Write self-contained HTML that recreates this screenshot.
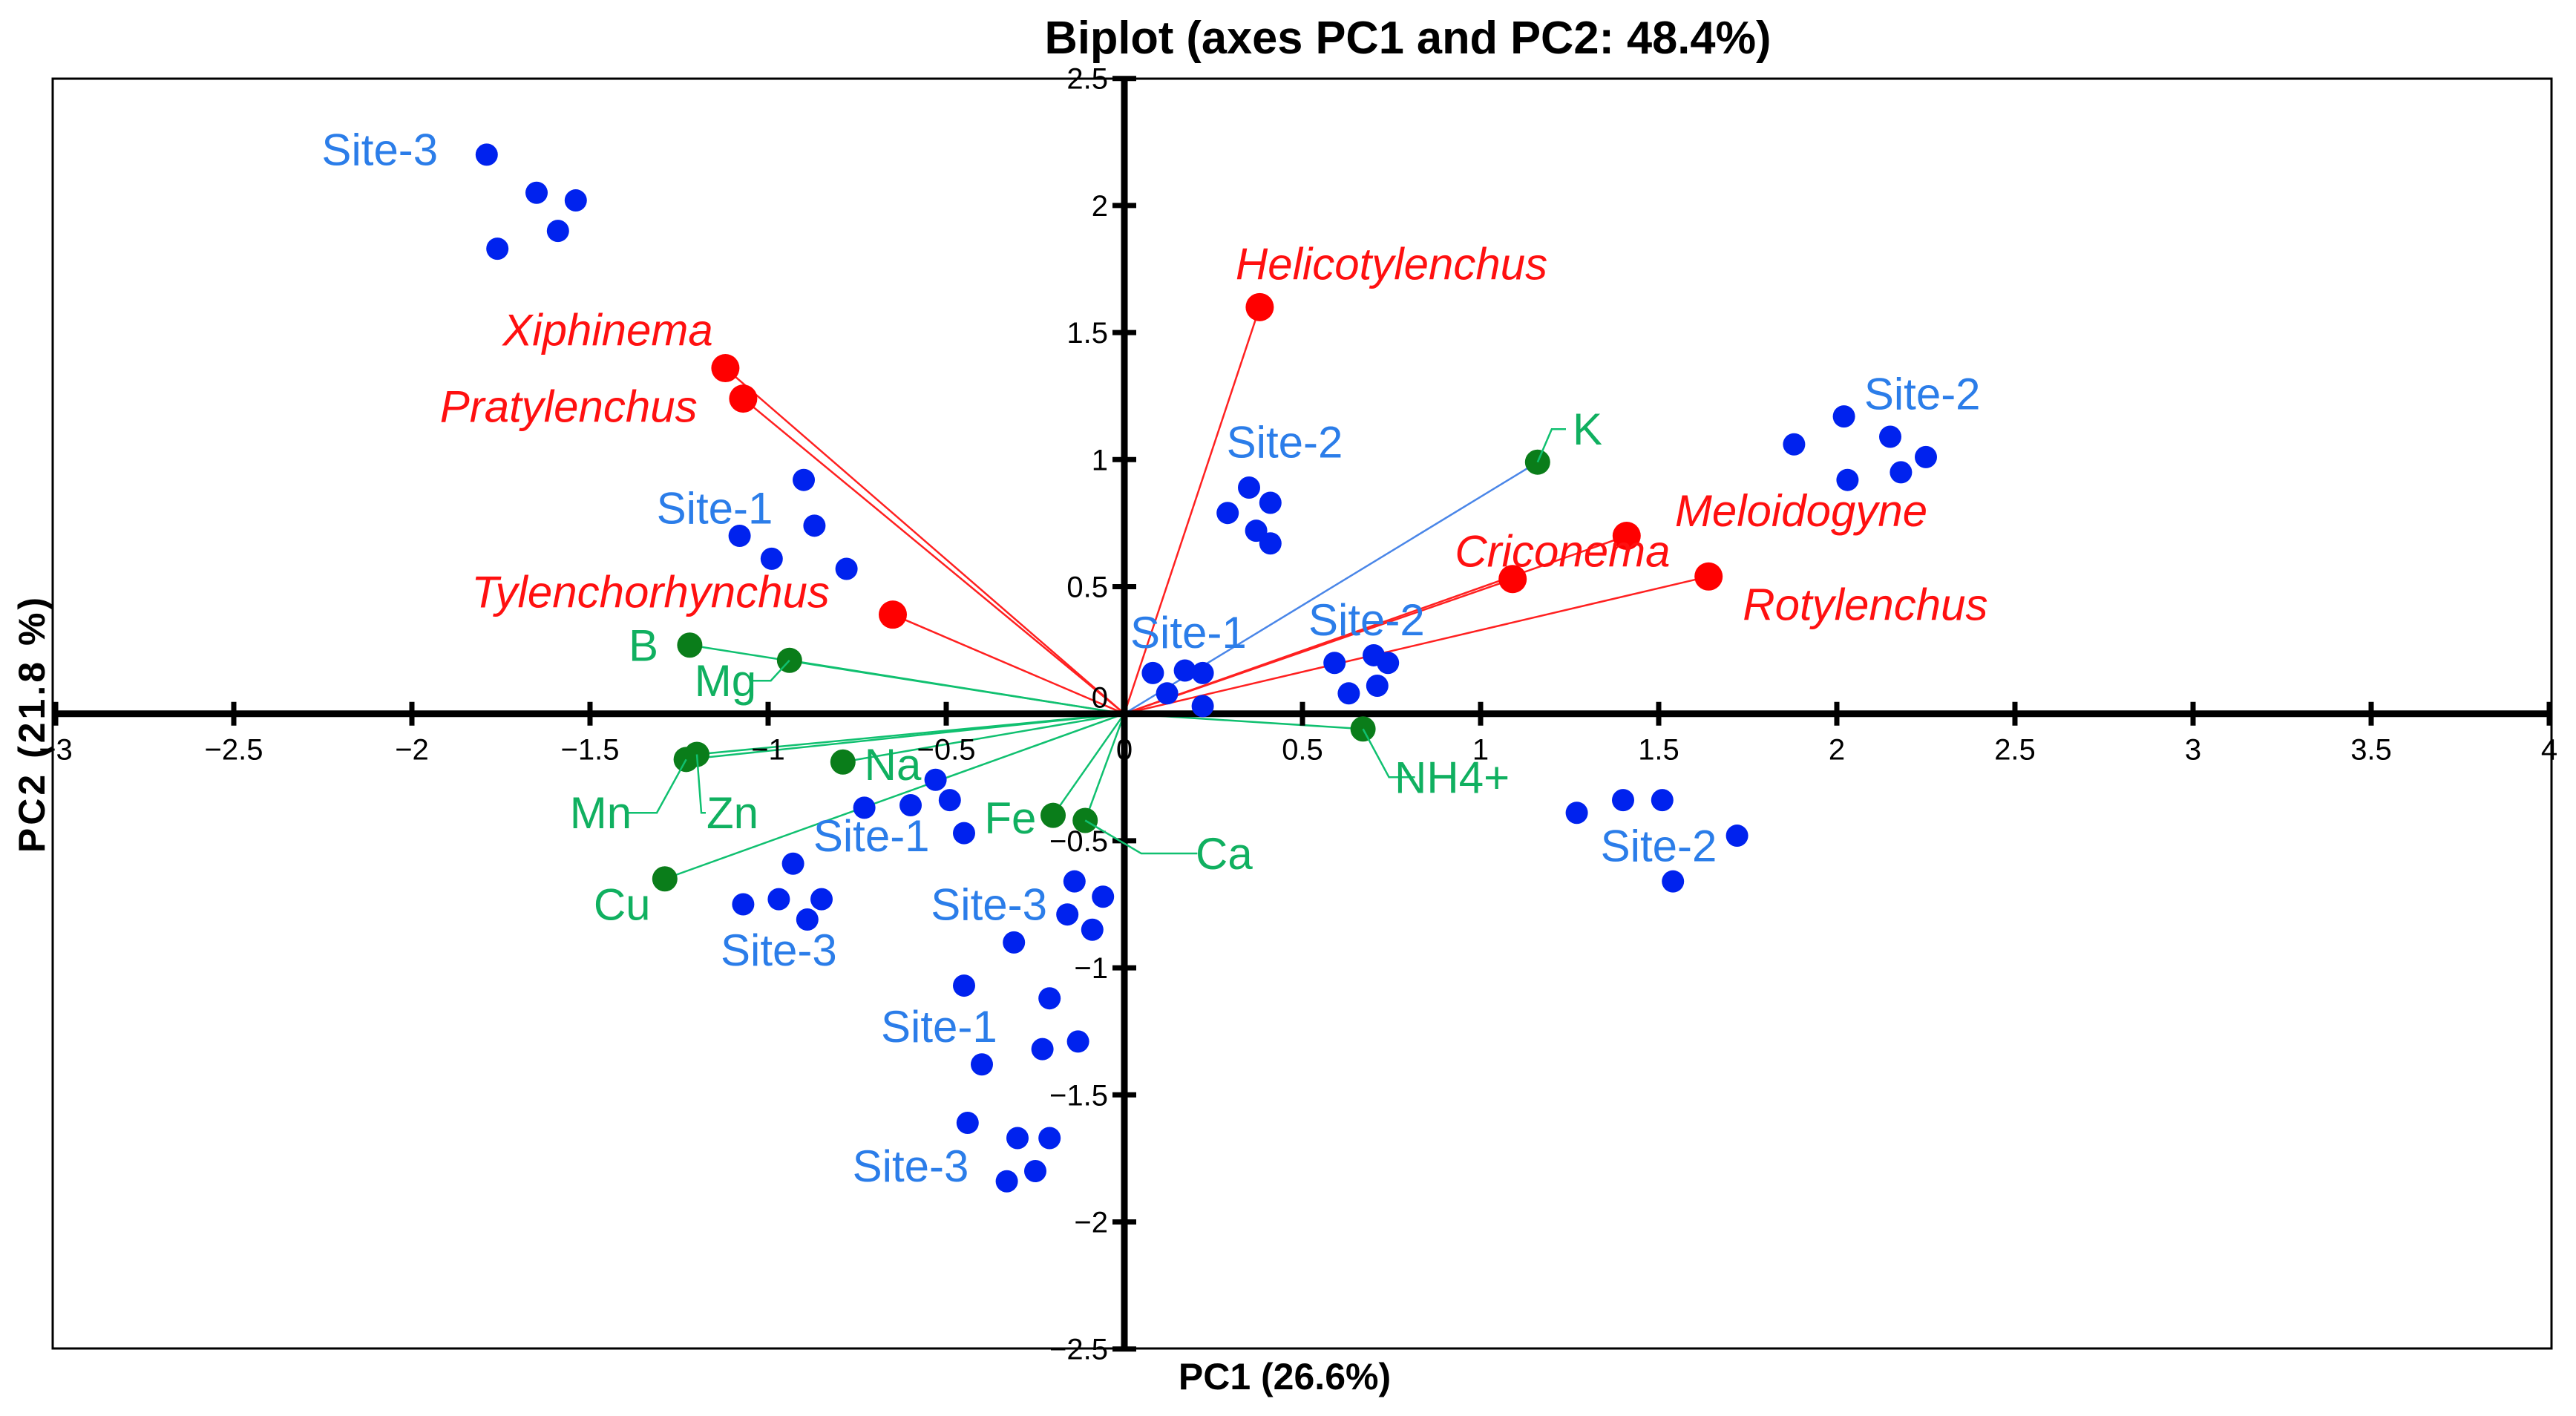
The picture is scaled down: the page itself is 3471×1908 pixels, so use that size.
<!DOCTYPE html>
<html><head><meta charset="utf-8"><style>
html,body{margin:0;padding:0;background:#fff;}
svg{display:block;font-family:"Liberation Sans",Arial,sans-serif;}
</style></head><body>
<svg id="chart" width="3471" height="1908" viewBox="0 0 3471 1908" xmlns="http://www.w3.org/2000/svg">
<rect x="0" y="0" width="3471" height="1908" fill="#fff"/>
<rect x="71" y="106" width="3367" height="1711" fill="none" stroke="#000" stroke-width="3"/>
<text x="1897" y="72" text-anchor="middle" font-size="62" font-weight="bold" textLength="979" lengthAdjust="spacingAndGlyphs">Biplot (axes PC1 and PC2: 48.4%)</text>
<text x="1731" y="1872" text-anchor="middle" font-size="50" font-weight="bold">PC1 (26.6%)</text>
<text transform="translate(60,975) rotate(-90)" text-anchor="middle" font-size="50" font-weight="bold" letter-spacing="4">PC2 (21.8 %)</text>
<g id="grid"></g><g id="vectors"></g><g id="axes"></g><g id="pts"></g><g id="labels"></g>
</svg>
<script>
const xTicks=[-3,-2.5,-2,-1.5,-1,-0.5,0,0.5,1,1.5,2,2.5,3,3.5,4];
const yTicks=[-2.5,-2,-1.5,-1,-0.5,0,0.5,1,1.5,2,2.5];
const obsX=[-1.79,-1.65,-1.54,-1.59,-1.76, -0.90,-0.87,-1.08,-0.99,-0.78, 0.35,0.41,0.29,0.37,0.41, 2.02,2.15,1.88,2.25,2.18,2.03, 0.08,0.17,0.22,0.12,0.22, 0.59,0.70,0.74,0.71,0.63, 1.27,1.40,1.51,1.72,1.54, -0.53,-0.60,-0.49,-0.73,-0.45, -0.93,-1.07,-0.97,-0.85,-0.89, -0.14,-0.06,-0.16,-0.09,-0.31, -0.45,-0.21,-0.13,-0.23,-0.40, -0.44,-0.30,-0.21,-0.25,-0.33];
const obsY=[2.20,2.05,2.02,1.90,1.83, 0.92,0.74,0.70,0.61,0.57, 0.89,0.83,0.79,0.72,0.67, 1.17,1.09,1.06,1.01,0.95,0.92, 0.16,0.17,0.16,0.08,0.03, 0.20,0.23,0.20,0.11,0.08, -0.39,-0.34,-0.34,-0.48,-0.66, -0.26,-0.36,-0.34,-0.37,-0.47, -0.59,-0.75,-0.73,-0.73,-0.81, -0.66,-0.72,-0.79,-0.85,-0.90, -1.07,-1.12,-1.29,-1.32,-1.38, -1.61,-1.67,-1.67,-1.80,-1.84];
const siteNames=["Site-3","Site-1","Site-2","Site-2","Site-1","Site-2","Site-2","Site-1","Site-3","Site-3","Site-1","Site-3"];
const siteLabelX=[-2.09,-1.15,0.45,2.24,0.18,0.68,1.50,-0.71,-0.97,-0.38,-0.52,-0.60];
const siteLabelY=[2.22,0.81,1.07,1.26,0.32,0.37,-0.52,-0.48,-0.93,-0.75,-1.23,-1.78];
const nemNames=["Helicotylenchus","Xiphinema","Pratylenchus","Tylenchorhynchus","Meloidogyne","Criconema","Rotylenchus"];
const nemX=[0.38,-1.12,-1.07,-0.65,1.41,1.09,1.64];
const nemY=[1.60,1.36,1.24,0.39,0.70,0.53,0.54];
const nemLabelX=[0.75,-1.45,-1.56,-1.33,1.90,1.23,2.08];
const nemLabelY=[1.77,1.51,1.21,0.48,0.80,0.64,0.43];
const soilNames=["B","Mg","K","Na","Mn","Zn","Cu","Fe","Ca","NH4+"];
const soilX=[-1.22,-0.94,1.16,-0.79,-1.23,-1.20,-1.29,-0.20,-0.11,0.67];
const soilY=[0.27,0.21,0.99,-0.19,-0.18,-0.16,-0.65,-0.40,-0.42,-0.06];
const soilLabelX=[-1.35,-1.12,1.30,-0.65,-1.47,-1.10,-1.41,-0.32,0.28,0.92];
const soilLabelY=[0.27,0.13,1.12,-0.20,-0.39,-0.39,-0.75,-0.41,-0.55,-0.25];

const X0=1515,XU=480,Y0=961.7,YU=342.4;
const sx=v=>X0+v*XU, sy=v=>Y0-v*YU;
const NS="http://www.w3.org/2000/svg";
function mk(tag,parent,attrs){const e=document.createElementNS(NS,tag);for(const k in attrs)e.setAttribute(k,attrs[k]);document.getElementById(parent).appendChild(e);return e;}

let ax=mk('line','axes',{x1:71,x2:3438,y1:sy(0),y2:sy(0),stroke:'#000','stroke-width':9});


let ay=mk('line','axes',{x1:sx(0),x2:sx(0),y1:106,y2:1817,stroke:'#000','stroke-width':9});


xTicks.forEach(t=>{
  const tk=mk('line','axes',{x1:sx(t),x2:sx(t),y1:sy(0)-16,y2:sy(0)+16,stroke:'#000','stroke-width':7});
  
  
  const tl=mk('text','axes',{x:sx(t),y:sy(0)+62,'text-anchor':'middle','font-size':40});
  
  
  tl.textContent=String(t).replace('-','\u2212');
});
yTicks.forEach(t=>{
  const tk=mk('line','axes',{x1:sx(0)-16,x2:sx(0)+16,y1:sy(t),y2:sy(t),stroke:'#000','stroke-width':7});
  
  
  if(t===0)return;
  const tl=mk('text','axes',{x:sx(0)-22,y:sy(t)+14,'text-anchor':'end','font-size':40});
  
  
  tl.textContent=String(t).replace('-','\u2212');
});
const z=mk('text','axes',{x:sx(0)-22,y:sy(0)-8,'text-anchor':'end','font-size':40});


z.textContent='0';

nemX.forEach((v,i)=>{
  const l=mk('line','vectors',{x1:sx(0),y1:sy(0),x2:sx(v),y2:sy(nemY[i]),stroke:'#ff2020','stroke-width':2.5});
  
  
});
soilX.forEach((v,i)=>{
  const l=mk('line','vectors',{x1:sx(0),y1:sy(0),x2:sx(v),y2:sy(soilY[i]),stroke:soilNames[i]==='K'?'#4a86e8':'#10c070','stroke-width':2.5});
  
  
});

obsX.forEach((v,i)=>{
  const c=mk('circle','pts',{cx:sx(v),cy:sy(obsY[i]),r:15,fill:'#0022ee'});
  
  
});
nemX.forEach((v,i)=>{
  const c=mk('circle','pts',{cx:sx(v),cy:sy(nemY[i]),r:19,fill:'#ff0000'});
  
  
});
soilX.forEach((v,i)=>{
  const c=mk('circle','pts',{cx:sx(v),cy:sy(soilY[i]),r:17,fill:'#0a7d1a'});
  
  
});

const leaderFor=["Mg","K","Mn","Zn","Ca","NH4+"];
leaderFor.forEach(n=>{
  const i=soilNames.indexOf(n);
  const px=sx(soilX[i]),py=sy(soilY[i]),lx=sx(soilLabelX[i]),ly=sy(soilLabelY[i]);
  const ex = lx + (lx>px ? -22 - n.length*7 : 22 + n.length*7);
  const l=mk('polyline','labels',{points:`${px},${py} ${(px+ex)/2},${ly} ${ex},${ly}`,fill:'none',stroke:'#10c070','stroke-width':2.5});
  
  
});

siteNames.forEach((n,i)=>{
  const t=mk('text','labels',{x:sx(siteLabelX[i]),y:sy(siteLabelY[i])+21,'text-anchor':'middle','font-size':60,fill:'#2b7de9'});
  
  
  t.textContent=n;
});
nemNames.forEach((n,i)=>{
  const t=mk('text','labels',{x:sx(nemLabelX[i]),y:sy(nemLabelY[i])+21,'text-anchor':'middle','font-size':60,'font-style':'italic',fill:'#ff1010'});
  
  
  t.textContent=n;
});
soilNames.forEach((n,i)=>{
  const t=mk('text','labels',{x:sx(soilLabelX[i]),y:sy(soilLabelY[i])+21,'text-anchor':'middle','font-size':60,fill:'#10b060'});
  
  
  t.textContent=n;
});
</script>
</body></html>
